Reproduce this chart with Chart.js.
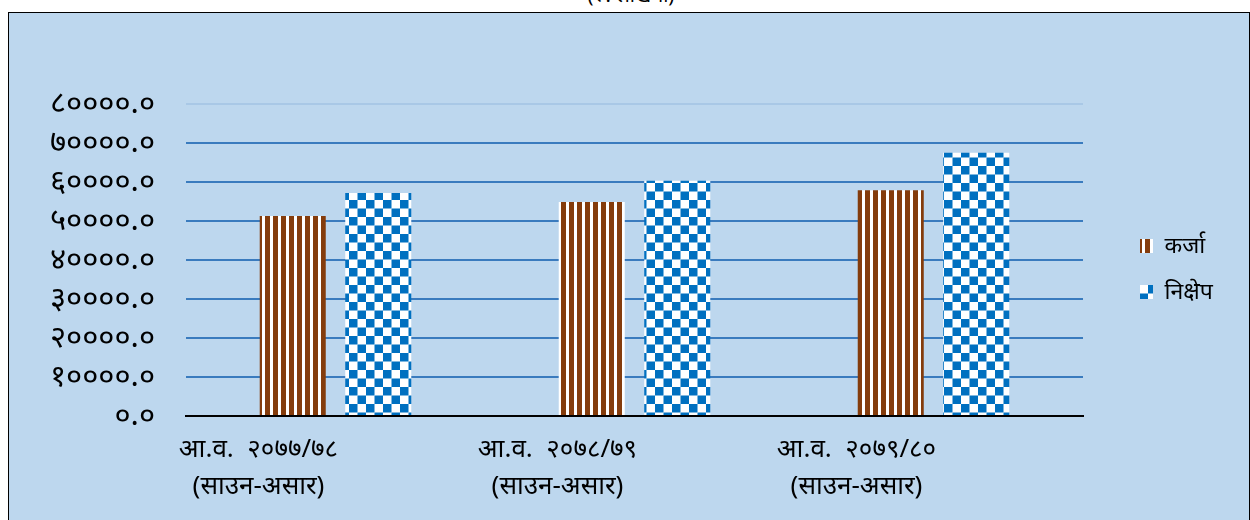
<!DOCTYPE html>
<html>
<head>
<meta charset="utf-8">
<script src="https://cdn.jsdelivr.net/npm/chart.js@4.4.1/dist/chart.umd.min.js"></script>
<style>
  html, body { margin: 0; padding: 0; background: #fff; overflow: hidden; }
  #unit { position: absolute; left: 0; width: 1262px; top: -19px; text-align: center;
          font: 20px "Noto Sans", sans-serif; color: #000; }
  #frame { position: absolute; left: 8px; top: 12px; width: 1240px; height: 520px;
           border: 1px solid #000; background: #BDD7EE; }
  #wrap { position: relative; width: 1240px; height: 507px; }
</style>
</head>
<body>
<div id="unit">(रु. लाखमा)</div>
<div id="frame"><div id="wrap"><canvas id="myChart"></canvas></div></div>
<script>
// data
var categories = [
	['आ.व.  २०७७/७८', '(साउन-असार)'],
	['आ.व.  २०७८/७९', '(साउन-असार)'],
	['आ.व.  २०७९/८०', '(साउन-असार)']
];
var seriesNames = ['कर्जा', 'निक्षेप'];
var loan = [51300, 54900, 57900];
var deposit = [57200, 60300, 67500];
var yTicks = [0, 10000, 20000, 30000, 40000, 50000, 60000, 70000, 80000];
var yTickLabels = ['०.०', '१००००.०', '२००००.०', '३००००.०', '४००००.०', '५००००.०', '६००००.०', '७००००.०', '८००००.०'];

function stripes() {
	var c = document.createElement('canvas');
	c.width = 8; c.height = 8;
	var g = c.getContext('2d');
	g.fillStyle = '#ffffff';
	g.fillRect(0, 0, 8, 8);
	g.fillStyle = '#843C0C';
	g.fillRect(0, 0, 5, 8);
	return g.createPattern(c, 'repeat');
}

function checks() {
	var c = document.createElement('canvas');
	c.width = 17; c.height = 17;
	var g = c.getContext('2d');
	g.fillStyle = '#ffffff';
	g.fillRect(0, 0, 17, 17);
	g.fillStyle = '#0070C0';
	g.fillRect(0, 0, 8.5, 8.5);
	g.fillRect(8.5, 8.5, 8.5, 8.5);
	return g.createPattern(c, 'repeat');
}

var font = "'Noto Sans', sans-serif";

var chartdata = {
	labels: categories,
	datasets: [
		{ label: seriesNames[0], data: loan, backgroundColor: stripes(), borderWidth: 0,
		  categoryPercentage: 0.572, barPercentage: 0.772 },
		{ label: seriesNames[1], data: deposit, backgroundColor: checks(), borderWidth: 0,
		  categoryPercentage: 0.572, barPercentage: 0.772 }
	]
};

var ctx = document.getElementById('myChart');

var barGraph = new Chart(ctx, {
	type: 'bar',
	data: chartdata,
	options: {
		responsive: true,
		maintainAspectRatio: false,
		animation: false,
		layout: { padding: { top: 91, left: 0, right: 32, bottom: 0 } },
		plugins: {
			tooltip: { enabled: false },
			legend: {
				position: 'right',
				fullSize: false,
				maxWidth: 100,
				title: { display: true, text: ' ', padding: 0, font: { size: 15 } },
				labels: {
					boxWidth: 13,
					boxHeight: 14,
					padding: 23,
					color: '#000',
					font: { family: font, size: 23 }
				}
			}
		},
		scales: {
			x: {
				grid: { display: false },
				border: { display: true, color: '#000', width: 2 },
				ticks: {
					color: '#000',
					font: { family: font, size: 26, lineHeight: '37px' },
					padding: 7,
					labelOffset: -77,
					maxRotation: 0,
					autoSkip: false
				},
				afterFit: function(s) { s.height = 104; }
			},
			y: {
				min: 0,
				max: 80000,
				afterBuildTicks: function(s) {
					s.ticks = yTicks.map(function(v) { return { value: v }; });
				},
				grid: {
					drawTicks: false,
					lineWidth: 2,
					color: function(c) {
						return c.tick && c.tick.value === 80000 ? '#A9C8E6' : '#3A7BBE';
					}
				},
				border: { display: false },
				ticks: {
					color: '#000',
					padding: 31,
					autoSkip: false,
					font: { family: font, size: 31 },
					callback: function(v, i) { return yTickLabels[i]; }
				},
				afterFit: function(s) { s.width = 177; }
			},
			gap: {
				position: 'right',
				display: true,
				grid: { display: false },
				border: { display: false },
				ticks: { display: false },
				afterFit: function(s) { s.width = 34; }
			}
		}
	}
});
</script>
</body>
</html>
